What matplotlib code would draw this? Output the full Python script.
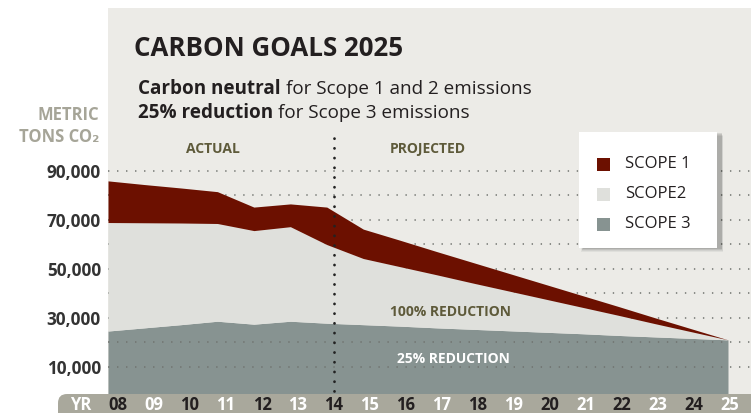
import matplotlib
matplotlib.use("Agg")
import matplotlib.pyplot as plt
import matplotlib.transforms as mtrans
from matplotlib.patches import FancyBboxPatch, Rectangle
import numpy as np

# ---------------- data ----------------
years = ["08", "09", "10", "11", "12", "13", "14", "15", "16", "17", "18",
         "19", "20", "21", "22", "23", "24", "25"]
scope3 = [24500, 25800, 27100, 28500, 27300, 28500, 27700, 27100, 26500, 25800,
          25200, 24600, 24000, 23400, 22700, 22100, 21500, 20900]
scope2 = [44300, 42900, 41500, 39900, 38200, 38600, 32100, 27000, 24300, 21700,
          18900, 16200, 13500, 10800, 8200, 5400, 2700, 0]
scope1 = [17000, 15600, 14300, 13000, 9600, 9300, 15300, 12000, 10800, 9500,
          8400, 7200, 6000, 4800, 3600, 2400, 1200, 0]
ytick_vals = [10000, 30000, 50000, 70000, 90000]
ytick_labels = ["10,000", "30,000", "50,000", "70,000", "90,000"]
legend_labels = ["SCOPE 1", "SCOPE2", "SCOPE 3"]

# ---------------- style ----------------
C1 = "#6c1000"
C2 = "#dfe0dc"
C3 = "#879391"
BG = "#ecebe7"
BAND = "#a9a89c"
OLIVE = "#5e5a3a"
DARK = "#231f20"
FONT = ["Open Sans", "DejaVu Sans"]
plt.rcParams["font.family"] = FONT

W, H = 751, 413
fig = plt.figure(figsize=(W / 100, H / 100), dpi=100)
fig.patch.set_facecolor("white")


def fx(x):
    return x / W


def fy(y):
    return 1 - y / H


# gray panel behind the title and chart
fig.patches.append(Rectangle((fx(108), fy(394)), fx(W - 108), 386 / H,
                             transform=fig.transFigure, facecolor=BG,
                             edgecolor="none", zorder=-5))

# axes: left 108px, bottom 394px, top 8px
y_per_px = 402.0
y0_px = 397.0
ax = fig.add_axes([fx(108), fy(394), fx(W - 108), 386 / H])
ax.set_zorder(1)
ax.set_facecolor("none")
ax.set_ylim(-(y0_px - 394) * y_per_px, (y0_px - 8) * y_per_px)
x_per_px = 1 / 36.47
ax.set_xlim(0, (W - 108) * x_per_px)
for s in ax.spines.values():
    s.set_visible(False)

x = np.arange(len(years))
s3 = np.array(scope3)
s2 = s3 + np.array(scope2)
s1 = s2 + np.array(scope1)

ax.fill_between(x, -5000, s3, color=C3, lw=0, zorder=1)
for g in range(10000, 100000, 10000):
    ax.axhline(g, color="#6f726e", lw=1.1, dashes=(0.9, 5.0), zorder=1.5)
ax.fill_between(x, s3, s2, color=C2, lw=0, zorder=2)
ax.fill_between(x, s2, s1, color=C1, lw=0, zorder=2)

# y ticks
ax.set_yticks(ytick_vals)
ax.set_yticklabels(ytick_labels, fontsize=12.3, fontweight="bold", color="#333333")
ax.tick_params(axis="y", length=0, pad=5)
ax.set_xticks([])

# x tick label positions (slightly offset from data positions)
xlab = 0.274 + 0.987 * x

# vertical dotted divider at 2014
ax.plot([xlab[6], xlab[6]], [0, (y0_px - 136) * y_per_px], color="#222222",
        lw=2.0, dashes=(0.05, 3.45), dash_capstyle="round", zorder=5)

# bottom band
band = FancyBboxPatch((fx(58), fy(430)), fx(760 - 58), 36 / H,
                      boxstyle="round,pad=0,rounding_size=0.012",
                      transform=fig.transFigure, facecolor=BAND,
                      edgecolor="none", zorder=3, mutation_aspect=W / H)
fig.patches.append(band)
fig.text(fx(81), fy(405), "YR", ha="center", va="center", color="white",
         fontsize=12, fontweight="bold", zorder=5)
blend = mtrans.blended_transform_factory(ax.transData, fig.transFigure)
for i, lab in enumerate(years):
    col = DARK if i % 2 == 0 else "white"
    fig.text(xlab[i], fy(405), lab, transform=blend,
             ha="center", va="center", color=col, fontsize=12,
             fontweight="bold", zorder=5)

# title & subtitle
fig.text(fx(134), fy(49), "CARBON GOALS 2025", ha="left", va="center",
         fontsize=18.6, fontweight="bold", color=DARK, zorder=5)

fig.canvas.draw()
renderer = fig.canvas.get_renderer()


def mixed(xpx, ypx, bold, normal, size):
    t1 = fig.text(fx(xpx), fy(ypx), bold, ha="left", va="baseline",
                  fontsize=size, fontweight="bold", color=DARK, zorder=5)
    bb = t1.get_window_extent(renderer=renderer)
    fig.text(bb.x1 / W + 5 / W, fy(ypx), normal, ha="left", va="baseline",
             fontsize=size, color=DARK, zorder=5)


mixed(138, 94, "Carbon neutral", "for Scope 1 and 2 emissions", 13.6)
mixed(138, 118, "25% reduction", "for Scope 3 emissions", 13.6)

# axis unit label
fig.text(fx(99), fy(115), "METRIC", ha="right", va="center", fontsize=12,
         fontweight="bold", color="#a6a598", zorder=5)
fig.text(fx(99), fy(137), "TONS CO\u2082", ha="right", va="center", fontsize=12,
         fontweight="bold", color="#a6a598", zorder=5)

# section labels
fig.text(fx(213), fy(149), "ACTUAL", ha="center", va="center", fontsize=10,
         fontweight="bold", color=OLIVE, zorder=5)
fig.text(fx(428), fy(149), "PROJECTED", ha="center", va="center", fontsize=10,
         fontweight="bold", color=OLIVE, zorder=5)
fig.text(fx(451), fy(311.5), "100% REDUCTION", ha="center", va="center",
         fontsize=10, fontweight="bold", color=OLIVE, zorder=5)
fig.text(fx(453), fy(359), "25% REDUCTION", ha="center", va="center",
         fontsize=10, fontweight="bold", color="white", zorder=5)

# legend box with soft shadow
lx0, ly0, lx1, ly1 = 579, 132, 717, 248
for k, a in enumerate([0.05, 0.06, 0.08, 0.10]):
    d = 4 - k
    fig.patches.append(Rectangle((fx(lx0 + 2 + k * 0.5), fy(ly1 + d)),
                                 fx(lx1 - lx0 + d), (ly1 - ly0) / H,
                                 transform=fig.transFigure, facecolor="black",
                                 alpha=a, edgecolor="none", zorder=7))
fig.patches.append(Rectangle((fx(lx0), fy(ly1)), fx(lx1 - lx0), (ly1 - ly0) / H,
                             transform=fig.transFigure, facecolor="white",
                             edgecolor="none", zorder=8))
for lab, col, yy in zip(legend_labels, [C1, C2, C3], [164, 194, 224]):
    fig.patches.append(Rectangle((fx(597), fy(yy + 6.5)), fx(13), 13 / H,
                                 transform=fig.transFigure, facecolor=col,
                                 edgecolor="none", zorder=9))
    fig.text(fx(625), fy(yy), lab, ha="left", va="center", fontsize=12,
             color=DARK, zorder=10)

fig.savefig("out.png", dpi=100, facecolor="white")
